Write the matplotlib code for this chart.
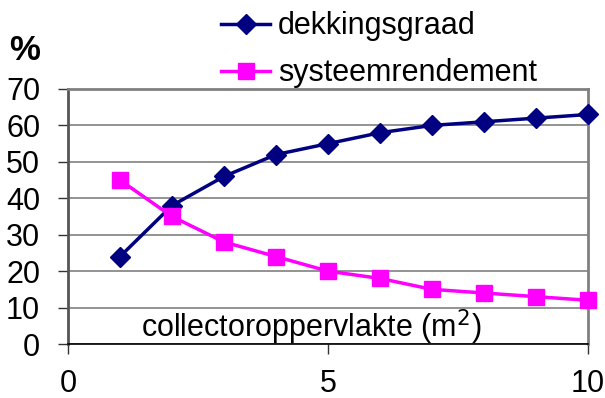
import matplotlib.pyplot as plt
from matplotlib.lines import Line2D

plt.rcParams['font.family'] = ['Liberation Sans', 'DejaVu Sans']

# collector area (m2) and the two efficiency curves in %
oppervlakte = [1, 2, 3, 4, 5, 6, 7, 8, 9, 10]
dekkingsgraad = [24, 38, 46, 52, 55, 58, 60, 61, 62, 63]
systeemrendement = [45, 35, 28, 24, 20, 18, 15, 14, 13, 12]

navy = '#000080'
magenta = '#ff00ff'

fig = plt.figure(figsize=(6.05, 3.98), dpi=100)
ax = fig.add_axes([68 / 605, 1 - 344 / 398, 520 / 605, 255 / 398])

ax.plot(oppervlakte, dekkingsgraad, color=navy, lw=2.5, marker='D',
        ms=10.5, zorder=3, clip_on=False)
ax.plot(oppervlakte, systeemrendement, color=magenta, lw=2.5, marker='s',
        ms=12, zorder=3, clip_on=False)

ax.set_xlim(0, 10)
ax.set_ylim(0, 70)
ax.set_xticks([0, 5, 10])
ax.set_yticks(range(0, 71, 10))
ax.tick_params(labelsize=22, length=7, width=1, color='#333333')
ax.tick_params(axis='x', pad=11)
ax.tick_params(axis='y', pad=13)
ax.grid(axis='y', color='#808080', lw=1.2)
ax.set_axisbelow(True)

for side in ('top', 'right'):
    ax.spines[side].set_color('#808080')
    ax.spines[side].set_linewidth(2)
ax.spines['left'].set_color('#555555')
ax.spines['left'].set_linewidth(2)
ax.spines['bottom'].set_color('black')
ax.spines['bottom'].set_linewidth(1.2)

ax.text(4.67, 4.7, 'collectoroppervlakte (m$^2$)', fontsize=22,
        ha='center', va='center')
fig.text(25 / 605, 1 - 51 / 398, '%', fontsize=25, fontweight='bold',
         ha='center', va='center')

handles = [
    Line2D([], [], color=navy, lw=2.5, marker='D', ms=10.5),
    Line2D([], [], color=magenta, lw=2.5, marker='s', ms=12),
]
fig.legend(handles, ['dekkingsgraad', 'systeemrendement'],
           loc='upper left', bbox_to_anchor=(200 / 605, 1.025),
           frameon=False, fontsize=22, handlelength=1.6,
           handletextpad=0.25, labelspacing=0.55, borderpad=0.2)

fig.savefig('out.png', dpi=100)
